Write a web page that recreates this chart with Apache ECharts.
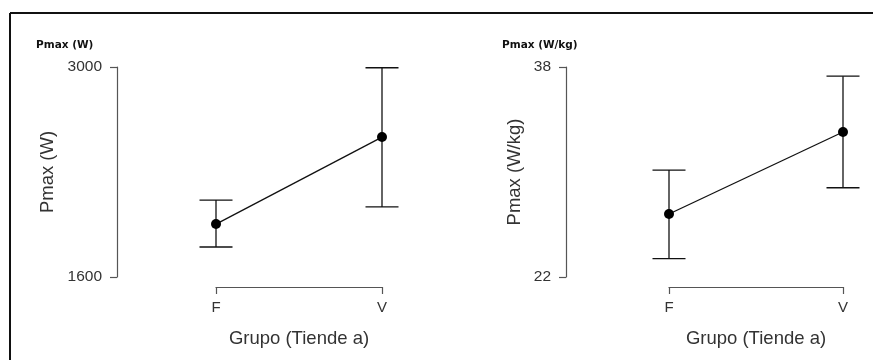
<!DOCTYPE html>
<html>
<head>
<meta charset="utf-8">
<script src="https://cdn.jsdelivr.net/npm/echarts@6/dist/echarts.min.js"></script>
<style>html,body{margin:0;padding:0;background:#fff;}#c{width:873px;height:360px;}</style>
</head>
<body>
<div id="c"></div>
<script>
// ---- data ----
const categories = ['F', 'V'];
const wMean = [1953, 2533];
const wLow = [1800, 2067];
const wHigh = [2113, 2995];
const kgMean = [26.8, 33.05];
const kgLow = [23.4, 28.8];
const kgHigh = [30.15, 37.3];
const wTicks = [1600, 3000];
const kgTicks = [22, 38];

const FONT = '"Liberation Sans", Arial, Helvetica, sans-serif';
const TFONT = '"DejaVu Sans", Verdana, sans-serif';
const chart = echarts.init(document.getElementById('c'), null, {renderer: 'canvas'});

function errData(low, high) {
  return categories.map((c, i) => [i, low[i], high[i]]);
}
function errRender(params, api) {
  const x = api.value(0);
  const lo = api.coord([x, api.value(1)]);
  const hi = api.coord([x, api.value(2)]);
  const hw = 16.5;
  const st = {stroke: '#111', lineWidth: 1.3};
  return {
    type: 'group',
    children: [
      {type: 'line', shape: {x1: lo[0], y1: lo[1], x2: hi[0], y2: hi[1]}, style: st},
      {type: 'line', shape: {x1: lo[0] - hw, y1: lo[1], x2: lo[0] + hw, y2: lo[1]}, style: st},
      {type: 'line', shape: {x1: hi[0] - hw, y1: hi[1], x2: hi[0] + hw, y2: hi[1]}, style: st}
    ]
  };
}
function xAxisCfg(gi) {
  return {
    type: 'category', gridIndex: gi, data: categories, boundaryGap: false,
    offset: 10,
    axisLine: {show: true, lineStyle: {color: '#555', width: 1.2}},
    axisTick: {show: true, length: 7, inside: false, alignWithLabel: true, lineStyle: {color: '#555', width: 1.2}},
    axisLabel: {color: '#333', fontSize: 15, fontFamily: FONT, margin: 13},
    splitLine: {show: false},
    name: 'Grupo (Tiende a)', nameLocation: 'middle', nameGap: 42,
    nameTextStyle: {color: '#333', fontSize: 18.5, fontFamily: FONT}
  };
}
function yAxisCfg(gi, ticks, off, name, gap) {
  return {
    type: 'value', gridIndex: gi, min: ticks[0], max: ticks[1], interval: ticks[1] - ticks[0],
    offset: off,
    axisLine: {show: true, lineStyle: {color: '#555', width: 1.2}},
    axisTick: {show: true, length: 7, lineStyle: {color: '#555', width: 1.2}},
    axisLabel: {color: '#333', fontSize: 15.5, fontFamily: FONT, margin: 15, formatter: v => String(v)},
    splitLine: {show: false},
    name: name, nameLocation: 'middle', nameGap: gap,
    nameTextStyle: {color: '#333', fontSize: 18.5, fontFamily: FONT}
  };
}

const option = {
  backgroundColor: '#fff',
  animation: false,
  title: [
    {text: 'Pmax (W)', left: 36, top: 40, padding: 0, textStyle: {fontSize: 10.5, fontWeight: 'bold', color: '#111', fontFamily: TFONT}},
    {text: 'Pmax (W/kg)', left: 502, top: 40, padding: 0, textStyle: {fontSize: 10.5, fontWeight: 'bold', color: '#111', fontFamily: TFONT}}
  ],
  grid: [
    {left: 216, top: 67, width: 166, height: 210, containLabel: false},
    {left: 669, top: 67, width: 174, height: 210, containLabel: false}
  ],
  xAxis: [xAxisCfg(0), xAxisCfg(1)],
  yAxis: [
    yAxisCfg(0, wTicks, 99, 'Pmax (W)', 60),
    yAxisCfg(1, kgTicks, 103, 'Pmax (W/kg)', 42)
  ],
  series: [
    {type: 'custom', xAxisIndex: 0, yAxisIndex: 0, data: errData(wLow, wHigh), renderItem: errRender, clip: false, silent: true, z: 2},
    {type: 'line', xAxisIndex: 0, yAxisIndex: 0, data: wMean, symbol: 'circle', symbolSize: 10,
     itemStyle: {color: '#000'}, lineStyle: {color: '#111', width: 1.3}, z: 3},
    {type: 'custom', xAxisIndex: 1, yAxisIndex: 1, data: errData(kgLow, kgHigh), renderItem: errRender, clip: false, silent: true, z: 2},
    {type: 'line', xAxisIndex: 1, yAxisIndex: 1, data: kgMean, symbol: 'circle', symbolSize: 10,
     itemStyle: {color: '#000'}, lineStyle: {color: '#111', width: 1.3}, z: 3}
  ],
  graphic: [
    {type: 'line', shape: {x1: 10, y1: 13, x2: 873, y2: 13}, style: {stroke: '#111', lineWidth: 2}},
    {type: 'line', shape: {x1: 10, y1: 13, x2: 10, y2: 360}, style: {stroke: '#111', lineWidth: 2}}
  ]
};
chart.setOption(option);
</script>
</body>
</html>
